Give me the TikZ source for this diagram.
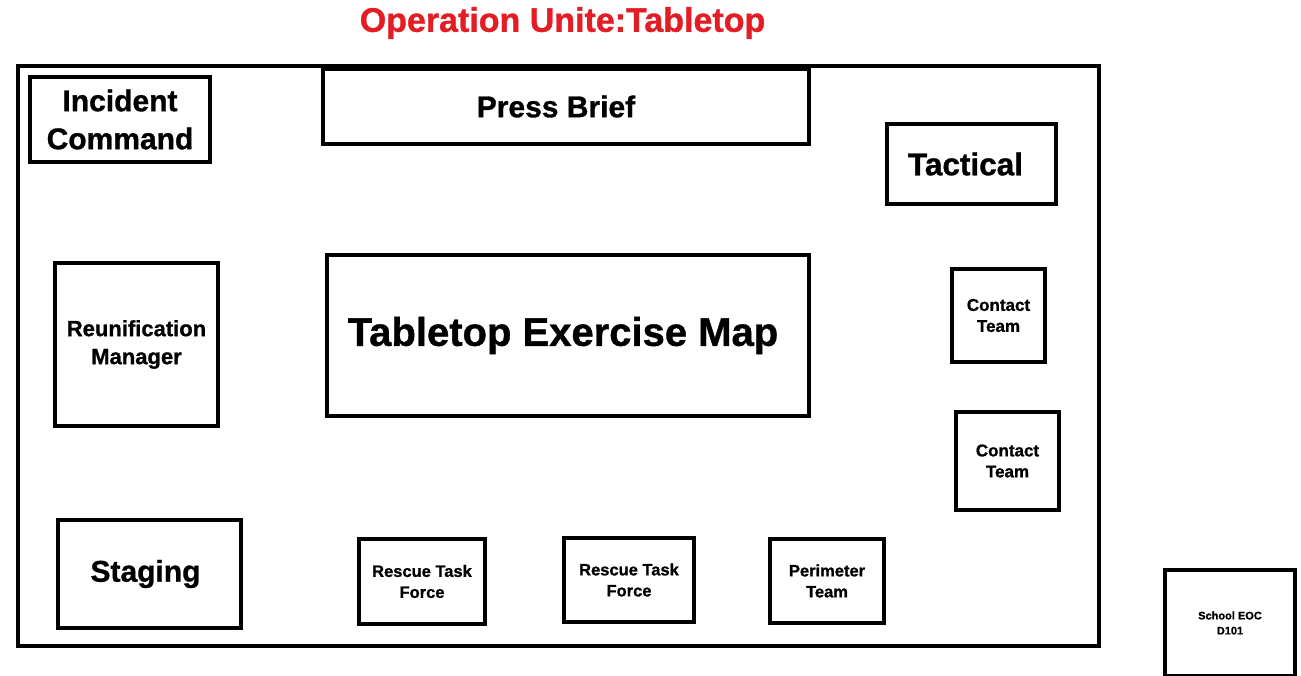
\documentclass[tikz,border=0pt]{standalone}
\usepackage{fontspec}
\setmainfont{Liberation Sans}[BoldFeatures={FakeBold=1}]

\definecolor{titlered}{RGB}{228,28,36}

\begin{document}
\begin{tikzpicture}[x = 1pt, y = -1pt]
\tikzstyle{RoomStyle}=[
shape = rectangle,
draw,
line width = 4pt,
inner sep = 0pt,
align = center,
font = \bfseries]
\tikzstyle{BigText}=[font = \bfseries\fontsize{30}{38}\selectfont]
\tikzstyle{MidText}=[font = \bfseries\fontsize{22}{28}\selectfont]
\tikzstyle{SmallText}=[font = \bfseries\fontsize{16.5}{21}\selectfont]
\useasboundingbox (0, 0) rectangle (1301, 676);
\clip (0, 0) rectangle (1301, 676);
\node[font = \bfseries\fontsize{34}{40}\selectfont, text = titlered] (title) at (562.5, 23) {Operation Unite:Tabletop};
\node[RoomStyle, minimum width = 1081pt, minimum height = 580pt] (hall) at (558.5, 356) {};
\node[RoomStyle, BigText, minimum width = 180pt, minimum height = 85pt] (incident) at (120, 119.5) {Incident\\Command};
\node[RoomStyle, BigText, minimum width = 486pt, minimum height = 75pt] (press) at (566, 106.5) {\hspace{-20pt}Press Brief};
\node[RoomStyle, font = \bfseries\fontsize{31.5}{38}\selectfont, minimum width = 169pt, minimum height = 80pt] (tactical) at (971.5, 164) {\hspace{-12pt}Tactical};
\node[RoomStyle, MidText, minimum width = 163pt, minimum height = 163pt] (reunify) at (136.5, 344.5) {Reunification\\Manager};
\node[RoomStyle, font = \bfseries\fontsize{40}{46}\selectfont, minimum width = 482pt, minimum height = 161pt] (map) at (568, 335.5) {\hspace{-10pt}Tabletop Exercise Map};
\node[RoomStyle, font = \bfseries\fontsize{17}{21}\selectfont, minimum width = 93pt, minimum height = 93pt] (contactA) at (998.5, 315.5) {Contact\\Team};
\node[RoomStyle, font = \bfseries\fontsize{17}{21}\selectfont, minimum width = 103pt, minimum height = 98pt] (contactB) at (1007.5, 461) {Contact\\Team};
\node[RoomStyle, BigText, minimum width = 183pt, minimum height = 108pt] (staging) at (149.5, 574) {\hspace{-8pt}Staging};
\node[RoomStyle, SmallText, minimum width = 126pt, minimum height = 85pt] (rescueA) at (422, 581.5) {Rescue Task\\Force};
\node[RoomStyle, SmallText, minimum width = 130pt, minimum height = 84pt] (rescueB) at (629, 580) {Rescue Task\\Force};
\node[RoomStyle, SmallText, minimum width = 114pt, minimum height = 84pt] (perimeter) at (827, 581) {Perimeter\\Team};
\node[RoomStyle, font = \bfseries\fontsize{11}{15}\selectfont, minimum width = 130pt, minimum height = 106pt] (eoc) at (1230, 623) {School EOC\\D101};
\end{tikzpicture}
\end{document}
